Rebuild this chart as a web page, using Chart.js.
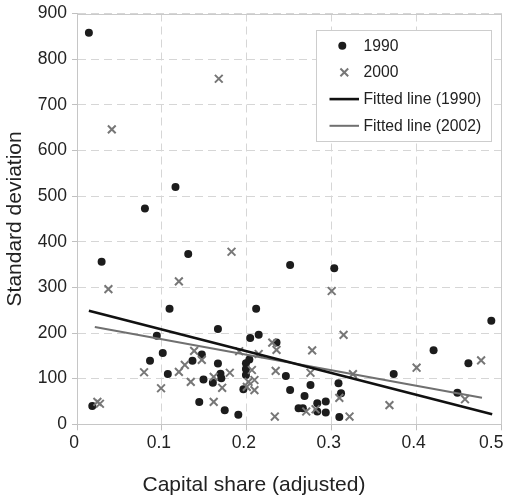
<!DOCTYPE html>
<html>
<head>
<meta charset="utf-8">
<title>Capital share vs standard deviation</title>
<script src="https://cdn.jsdelivr.net/npm/chart.js@4.4.1/dist/chart.umd.min.js"></script>
<style>
  html, body { margin: 0; padding: 0; background: #fff; }
  #wrap { width: 509px; height: 499px; }
</style>
</head>
<body>
<div id="wrap"><canvas id="chart" width="509" height="499"></canvas></div>
<script>
// values
const x1990 = [0.014, 0.018, 0.029, 0.080, 0.086, 0.094, 0.101, 0.107, 0.109, 0.116, 0.131, 0.136, 0.144, 0.147, 0.149, 0.160, 0.166, 0.166, 0.169, 0.170, 0.174, 0.190, 0.196, 0.199, 0.199, 0.199, 0.203, 0.204, 0.211, 0.214, 0.235, 0.246, 0.251, 0.251, 0.261, 0.266, 0.268, 0.275, 0.283, 0.283, 0.293, 0.293, 0.303, 0.308, 0.309, 0.311, 0.373, 0.420, 0.448, 0.461, 0.488];
const y1990 = [858, 40, 356, 473, 139, 194, 156, 110, 253, 520, 373, 139, 49, 153, 98, 91, 209, 133, 111, 101, 31, 21, 77, 134, 121, 108, 142, 189, 253, 196, 179, 106, 349, 75, 35, 35, 62, 86, 46, 28, 50, 26, 342, 90, 16, 68, 110, 162, 69, 134, 227];

const x2000 = [0.024, 0.027, 0.037, 0.041, 0.079, 0.099, 0.120, 0.120, 0.127, 0.134, 0.138, 0.147, 0.161, 0.161, 0.167, 0.171, 0.180, 0.182, 0.191, 0.200, 0.202, 0.206, 0.209, 0.209, 0.214, 0.230, 0.234, 0.235, 0.233, 0.270, 0.275, 0.277, 0.281, 0.300, 0.309, 0.314, 0.321, 0.325, 0.368, 0.400, 0.457, 0.476];
const y2000 = [49, 45, 296, 646, 114, 79, 313, 115, 130, 93, 161, 141, 104, 49, 757, 80, 113, 378, 160, 82, 93, 119, 97, 75, 154, 179, 117, 163, 17, 28, 113, 162, 33, 292, 58, 196, 17, 110, 42, 124, 55, 140];

// fitted lines (end points)
const fitX1990 = [0.014, 0.489];
const fitY1990 = [249, 22];
const fitX2002 = [0.021, 0.477];
const fitY2002 = [213, 58];

const seriesLabels = ['1990', '2000', 'Fitted line (1990)', 'Fitted line (2002)'];
const xTickLabels = ['0', '0.1', '0.2', '0.3', '0.4', '0.5'];
const yTickLabels = ['0', '100', '200', '300', '400', '500', '600', '700', '800', '900'];

const FONT = "'Liberation Sans', Arial, Helvetica, sans-serif";
const TEXT = '#222';

function pts(xs, ys) { return xs.map((x, i) => ({ x: x, y: ys[i] })); }

// legend box drawn inside the plot, top right
const legendBox = {
  id: 'legendBox',
  afterDatasetsDraw(chart) {
    const ctx = chart.ctx;
    const ds = chart.data.datasets;
    const bx = 316, by = 30, bw = 175, bh = 111;
    ctx.save();
    ctx.fillStyle = '#fff';
    ctx.fillRect(bx, by, bw, bh);
    ctx.strokeStyle = '#cdcdcd';
    ctx.lineWidth = 1;
    ctx.strokeRect(bx + 0.5, by + 0.5, bw, bh);
    ctx.font = '15.7px ' + FONT;
    ctx.textBaseline = 'middle';
    ctx.textAlign = 'left';
    ds.forEach((d, i) => {
      const cy = 45.7 + i * 26.7;
      if (i === 0) {
        ctx.fillStyle = d.backgroundColor;
        ctx.beginPath();
        ctx.arc(342.3, cy, d.pointRadius, 0, Math.PI * 2);
        ctx.fill();
      } else if (i === 1) {
        const r = d.pointRadius * Math.SQRT1_2;
        ctx.strokeStyle = d.borderColor;
        ctx.lineWidth = d.borderWidth;
        ctx.beginPath();
        ctx.moveTo(344.3 - r, cy - r); ctx.lineTo(344.3 + r, cy + r);
        ctx.moveTo(344.3 - r, cy + r); ctx.lineTo(344.3 + r, cy - r);
        ctx.stroke();
      } else {
        ctx.strokeStyle = d.borderColor;
        ctx.lineWidth = d.borderWidth;
        ctx.beginPath();
        ctx.moveTo(329.5, cy); ctx.lineTo(359, cy);
        ctx.stroke();
      }
      ctx.fillStyle = TEXT;
      ctx.fillText(d.label, 363.5, cy + 0.5);
    });
    ctx.restore();
  }
};

// solid top and right edges of the plot frame
const frame = {
  id: 'frame',
  beforeDatasetsDraw(chart) {
    const a = chart.chartArea;
    const ctx = chart.ctx;
    ctx.save();
    ctx.strokeStyle = '#cacaca';
    ctx.lineWidth = 1;
    ctx.beginPath();
    ctx.moveTo(a.left, Math.round(a.top) + 0.5);
    ctx.lineTo(a.right, Math.round(a.top) + 0.5);
    ctx.moveTo(Math.round(a.right) - 0.5, a.top);
    ctx.lineTo(Math.round(a.right) - 0.5, a.bottom);
    ctx.stroke();
    ctx.restore();
  }
};

new Chart(document.getElementById('chart'), {
  type: 'scatter',
  data: {
    datasets: [
      {
        label: seriesLabels[0], data: pts(x1990, y1990),
        pointStyle: 'circle', pointRadius: 4, pointHoverRadius: 4,
        backgroundColor: '#1c1c1c', borderColor: '#1c1c1c', borderWidth: 0, order: 3
      },
      {
        label: seriesLabels[1], data: pts(x2000, y2000),
        pointStyle: 'crossRot', pointRadius: 5.5, pointHoverRadius: 5.5,
        backgroundColor: '#777', borderColor: '#777', borderWidth: 2, order: 2
      },
      {
        label: seriesLabels[2], data: pts(fitX1990, fitY1990),
        showLine: true, pointRadius: 0, borderColor: '#111', borderWidth: 2.6,
        backgroundColor: '#111', fill: false, order: 0
      },
      {
        label: seriesLabels[3], data: pts(fitX2002, fitY2002),
        showLine: true, pointRadius: 0, borderColor: '#707070', borderWidth: 2,
        backgroundColor: '#707070', fill: false, order: 1
      }
    ]
  },
  options: {
    responsive: false,
    animation: false,
    devicePixelRatio: 1,
    layout: { padding: { top: 13.5, right: 1, bottom: 0, left: 0 } },
    plugins: {
      legend: { display: false },
      tooltip: { enabled: false },
      title: {
        display: true, position: 'bottom', text: 'Capital share (adjusted)',
        color: TEXT, font: { family: FONT, size: 21, weight: 'normal' },
        padding: { top: 0, bottom: 1 }
      }
    },
    scales: {
      x: {
        type: 'linear', min: 0, max: 0.5,
        ticks: {
          stepSize: 0.1, autoSkip: false, maxRotation: 0, padding: 2, labelOffset: -3,
          color: TEXT, font: { family: FONT, size: 17.5 },
          // last label sits a little left of its tick so it stays inside the canvas
          callback: (v, i) => i === xTickLabels.length - 1 ? xTickLabels[i] + '   ' : xTickLabels[i]
        },
        grid: { color: '#d6d6d6', lineWidth: 1, tickColor: '#c0c0c0', tickLength: 6 },
        border: { color: '#c6c6c6', width: 1, dash: [8, 5] },
        afterFit(s) { s.height = 48.5; s.paddingLeft = 0; s.paddingRight = 0; }
      },
      y: {
        type: 'linear', min: 0, max: 900,
        ticks: {
          stepSize: 100, padding: 5, color: TEXT, font: { family: FONT, size: 17.5 },
          callback: (v, i) => yTickLabels[i]
        },
        grid: { color: '#d6d6d6', lineWidth: 1, tickColor: '#c0c0c0', tickLength: 5 },
        border: { color: '#c6c6c6', width: 1, dash: [8, 5] },
        title: {
          display: true, text: 'Standard deviation', color: TEXT,
          font: { family: FONT, size: 21 }, padding: { top: 3, bottom: 0 }
        },
        afterFit(s) { s.width = 77; s.paddingTop = 0; s.paddingBottom = 0; }
      }
    }
  },
  plugins: [frame, legendBox]
});
</script>
</body>
</html>
